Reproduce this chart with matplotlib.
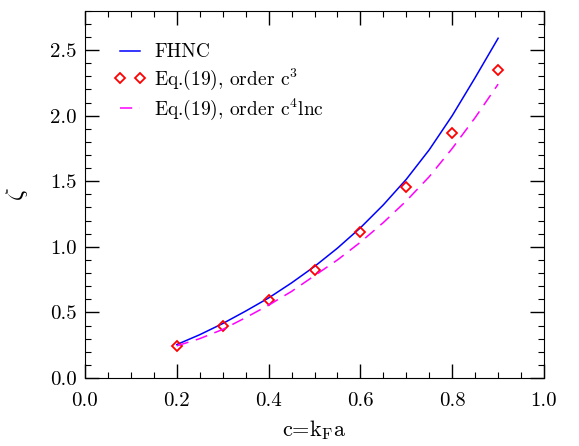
import numpy as np
import matplotlib.pyplot as plt
from matplotlib.ticker import MultipleLocator

plt.rcParams['font.family'] = ['cmr10', 'DejaVu Serif']
plt.rcParams['mathtext.fontset'] = 'cm'
plt.rcParams['axes.formatter.use_mathtext'] = True

# FHNC curve
c_fhnc = [0.2, 0.25, 0.3, 0.35, 0.4, 0.45, 0.5, 0.55, 0.6, 0.65, 0.7, 0.75, 0.8, 0.85, 0.9]
z_fhnc = [0.255, 0.33, 0.415, 0.51, 0.61, 0.725, 0.85, 0.99, 1.145, 1.32, 1.515, 1.74, 2.0, 2.29, 2.59]

# Eq.(19), order c^3
c_eq3 = [0.2, 0.3, 0.4, 0.5, 0.6, 0.7, 0.8, 0.9]
z_eq3 = [0.243, 0.40, 0.593, 0.827, 1.11, 1.456, 1.87, 2.35]

# Eq.(19), order c^4 ln c
c_eq4 = [0.2, 0.25, 0.3, 0.35, 0.4, 0.45, 0.5, 0.55, 0.6, 0.65, 0.7, 0.75, 0.8, 0.85, 0.9]
z_eq4 = [0.245, 0.30, 0.37, 0.46, 0.555, 0.66, 0.78, 0.90, 1.035, 1.185, 1.35, 1.535, 1.75, 1.985, 2.24]

fig = plt.figure(figsize=(5.79, 4.46), dpi=100)
ax = fig.add_axes([0.1468, 0.1525, 0.7928, 0.8235])

ax.plot(c_fhnc, z_fhnc, color='blue', lw=1.1, label='FHNC')
ax.plot(c_eq3, z_eq3, ls='none', marker='D', ms=5, mfc='none', mec='red', mew=1.3,
        label=r'Eq.(19), order c$^3$')
ax.plot(c_eq4, z_eq4, color='magenta', lw=1.1, dashes=(8, 5), label=r'Eq.(19), order c$^4$lnc')

ax.set_xlim(0, 1)
ax.set_ylim(0, 2.8)
ax.xaxis.set_major_locator(MultipleLocator(0.2))
ax.xaxis.set_minor_locator(MultipleLocator(0.05))
ax.yaxis.set_major_locator(MultipleLocator(0.5))
ax.yaxis.set_minor_locator(MultipleLocator(0.1))
ax.xaxis.set_major_formatter(lambda v, p: f'{v:.1f}')
ax.yaxis.set_major_formatter(lambda v, p: f'{v:.1f}')
ax.tick_params(which='both', direction='in', top=True, right=True, labelsize=15)
ax.tick_params(axis='x', which='both', pad=10)
ax.tick_params(axis='y', which='both', pad=6)
ax.tick_params(which='major', length=10, width=1.0)
ax.tick_params(which='minor', length=4, width=0.8)

ax.set_xlabel(r'c=k$_\mathrm{F}$a', fontsize=16, labelpad=6)
ax.set_ylabel(r'$\zeta$', fontsize=18, labelpad=14)

ax.legend(loc='upper left', bbox_to_anchor=(0, 0.99), frameon=False, fontsize=14, numpoints=2,
          handlelength=1.65, handletextpad=0.4, borderpad=0.5, borderaxespad=1.0, labelspacing=0.25)

fig.savefig('out.png', dpi=100)
